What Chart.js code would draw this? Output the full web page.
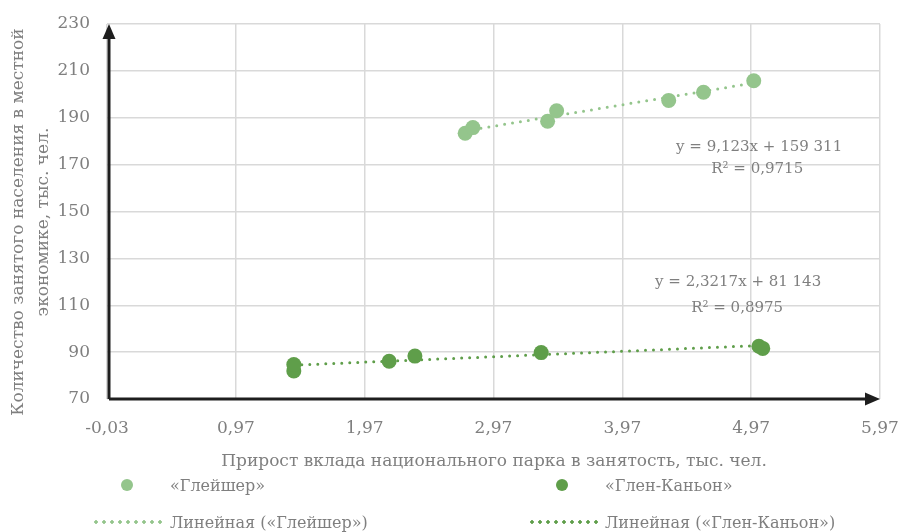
<!DOCTYPE html>
<html lang="ru">
<head>
    <meta charset="UTF-8">
    <title>scatter</title>
    <script src="https://cdn.jsdelivr.net/npm/chart.js@4/dist/chart.umd.min.js"></script>
    <style>
        body{
            margin: 0;
            background-color: #ffffff;
        }
        .wrap{
            position: relative;
            width: 899px;
            height: 532px;
            font-family: 'DejaVu Serif', serif;
            color: #7f7f7f;
        }
        #miCanvas{
            position: absolute;
            left: 0;
            top: 0;
        }
        .ytitle{
            position: absolute;
            left: 30px;
            top: 222px;
            width: 440px;
            transform: translate(-50%, -50%) rotate(-90deg);
            text-align: center;
            font-size: 17px;
            line-height: 25px;
            white-space: nowrap;
        }
        .xtitle{
            position: absolute;
            left: 494px;
            top: 460px;
            transform: translate(-50%, -50%);
            font-size: 17px;
            white-space: nowrap;
        }
        .leg{
            position: absolute;
            font-size: 16px;
            white-space: nowrap;
            transform: translateY(-50%);
        }
        .dot{
            position: absolute;
            width: 12px;
            height: 12px;
            border-radius: 6px;
            transform: translate(-50%, -50%);
        }
        .dash{
            position: absolute;
            height: 4px;
            background-size: 8px 4px;
            background-repeat: repeat-x;
            transform: translateY(-50%);
        }
    </style>
</head>
<body>
<div class="wrap">
    <canvas id="miCanvas" width="899" height="532"></canvas>
    <div class="ytitle">Количество занятого населения в местной<br>экономике, тыс. чел.</div>
    <div class="xtitle">Прирост вклада национального парка в занятость, тыс. чел.</div>

    <div class="dot" style="left:127px; top:485px; background:#94c58c;"></div>
    <div class="leg" style="left:170px; top:485px;">«Глейшер»</div>
    <div class="dot" style="left:562px; top:485px; background:#5f9e4a;"></div>
    <div class="leg" style="left:605px; top:485px;">«Глен-Каньон»</div>

    <div class="dash" style="left:92px; top:522px; width:72px; background-image: radial-gradient(circle, #94c58c 1.5px, transparent 2px);"></div>
    <div class="leg" style="left:170px; top:522px;">Линейная («Глейшер»)</div>
    <div class="dash" style="left:528px; top:522px; width:72px; background-image: radial-gradient(circle, #5f9e4a 1.5px, transparent 2px);"></div>
    <div class="leg" style="left:605px; top:522px;">Линейная («Глен-Каньон»)</div>
</div>
<script>
    // точки
    const glacierX = [2.75, 2.81, 3.39, 3.46, 4.33, 4.60, 4.99];
    const glacierY = [183.4, 185.8, 188.5, 193.0, 197.4, 200.9, 205.8];
    const glenX = [1.42, 1.42, 2.16, 2.36, 3.34, 5.03, 5.06];
    const glenY = [82.0, 84.7, 86.1, 88.3, 89.8, 92.5, 91.6];

    // линии тренда: [наклон, сдвиг] и подписи
    const glacierTrend = [9.123, 159.311];
    const glenTrend = [2.3217, 81.143];
    const glacierEq = ["y = 9,123x + 159 311", "R² = 0,9715"];
    const glenEq = ["y = 2,3217x + 81 143", "R² = 0,8975"];

    const xTicks = [-0.03, 0.97, 1.97, 2.97, 3.97, 4.97, 5.97];
    const yTicks = [70, 90, 110, 130, 150, 170, 190, 210, 230];

    const lightGreen = '#94c58c';
    const darkGreen = '#5f9e4a';
    const tickFont = {family: "'DejaVu Serif', serif", size: 17};

    const toPoints = (xs, ys) => xs.map((x, i) => ({x: x, y: ys[i]}));
    const trendPoints = (xs, k) => {
        const a = Math.min(...xs), b = Math.max(...xs);
        return [{x: a, y: k[0] * a + k[1]}, {x: b, y: k[0] * b + k[1]}];
    };

    // оси со стрелками и уравнения тренда
    const axesPlugin = {
        id: 'axesPlugin',
        afterDraw(chart){
            const ctx = chart.ctx;
            const xs = chart.scales.x, ys = chart.scales.y;
            const l = xs.left + 2, r = xs.right, t = ys.top, b = ys.bottom;
            ctx.save();
            ctx.strokeStyle = '#1e1e1e';
            ctx.fillStyle = '#1e1e1e';
            ctx.lineWidth = 3;
            ctx.beginPath();
            ctx.moveTo(l, b);
            ctx.lineTo(r - 12, b);
            ctx.moveTo(l, b);
            ctx.lineTo(l, t + 12);
            ctx.stroke();
            ctx.beginPath();
            ctx.moveTo(r, b);
            ctx.lineTo(r - 15, b - 6.5);
            ctx.lineTo(r - 15, b + 6.5);
            ctx.closePath();
            ctx.fill();
            ctx.beginPath();
            ctx.moveTo(l, t);
            ctx.lineTo(l - 6.5, t + 15);
            ctx.lineTo(l + 6.5, t + 15);
            ctx.closePath();
            ctx.fill();

            ctx.fillStyle = '#7f7f7f';
            ctx.font = "15px 'DejaVu Serif', serif";
            ctx.textAlign = 'center';
            ctx.textBaseline = 'middle';
            ctx.fillText(glacierEq[0], xs.getPixelForValue(5.032), ys.getPixelForValue(177.4));
            ctx.fillText(glacierEq[1], xs.getPixelForValue(5.017), ys.getPixelForValue(168.0));
            ctx.fillText(glenEq[0], xs.getPixelForValue(4.869), ys.getPixelForValue(119.7));
            ctx.fillText(glenEq[1], xs.getPixelForValue(4.861), ys.getPixelForValue(108.6));
            ctx.restore();
        }
    };

    const miCanvas = document.getElementById('miCanvas').getContext('2d');
    new Chart(miCanvas, {
        type: 'scatter',
        data: {
            datasets: [
                {
                    label: 'Линейная («Глейшер»)',
                    data: trendPoints(glacierX, glacierTrend),
                    showLine: true,
                    pointRadius: 0,
                    borderColor: lightGreen,
                    borderWidth: 3,
                    borderDash: [0, 8],
                    borderCapStyle: 'round',
                    order: 2
                },
                {
                    label: 'Линейная («Глен-Каньон»)',
                    data: trendPoints(glenX, glenTrend),
                    showLine: true,
                    pointRadius: 0,
                    borderColor: darkGreen,
                    borderWidth: 3,
                    borderDash: [0, 8],
                    borderCapStyle: 'round',
                    order: 2
                },
                {
                    label: '«Глейшер»',
                    data: toPoints(glacierX, glacierY),
                    pointRadius: 7.5,
                    backgroundColor: lightGreen,
                    borderColor: lightGreen,
                    borderWidth: 0,
                    order: 1
                },
                {
                    label: '«Глен-Каньон»',
                    data: toPoints(glenX, glenY),
                    pointRadius: 7.5,
                    backgroundColor: darkGreen,
                    borderColor: darkGreen,
                    borderWidth: 0,
                    order: 1
                }
            ]
        },
        options: {
            responsive: false,
            animation: false,
            devicePixelRatio: 1,
            layout: {padding: {left: 0, right: 0, top: 24, bottom: 0}},
            plugins: {
                legend: {display: false},
                tooltip: {enabled: false}
            },
            scales: {
                x: {
                    type: 'linear',
                    min: -0.03,
                    max: 5.97,
                    afterBuildTicks: (s) => { s.ticks = xTicks.map(v => ({value: v})); },
                    afterFit: (s) => { s.height = 133; s.paddingLeft = 0; s.paddingRight = 19; },
                    grid: {color: '#d9d9d9', lineWidth: 1.5, drawTicks: false},
                    border: {display: false},
                    ticks: {
                        color: '#7f7f7f',
                        font: tickFont,
                        padding: 19,
                        maxRotation: 0,
                        callback: (v) => v.toFixed(2).replace('.', ',')
                    }
                },
                y: {
                    min: 70,
                    max: 230,
                    afterBuildTicks: (s) => { s.ticks = yTicks.map(v => ({value: v})); },
                    afterFit: (s) => { s.width = 107; s.paddingTop = 0; s.paddingBottom = 0; },
                    grid: {color: '#d9d9d9', lineWidth: 1.5, drawTicks: false},
                    border: {display: false},
                    ticks: {
                        color: '#7f7f7f',
                        font: tickFont,
                        padding: 17
                    }
                }
            }
        },
        plugins: [axesPlugin]
    });
</script>
</body>
</html>
